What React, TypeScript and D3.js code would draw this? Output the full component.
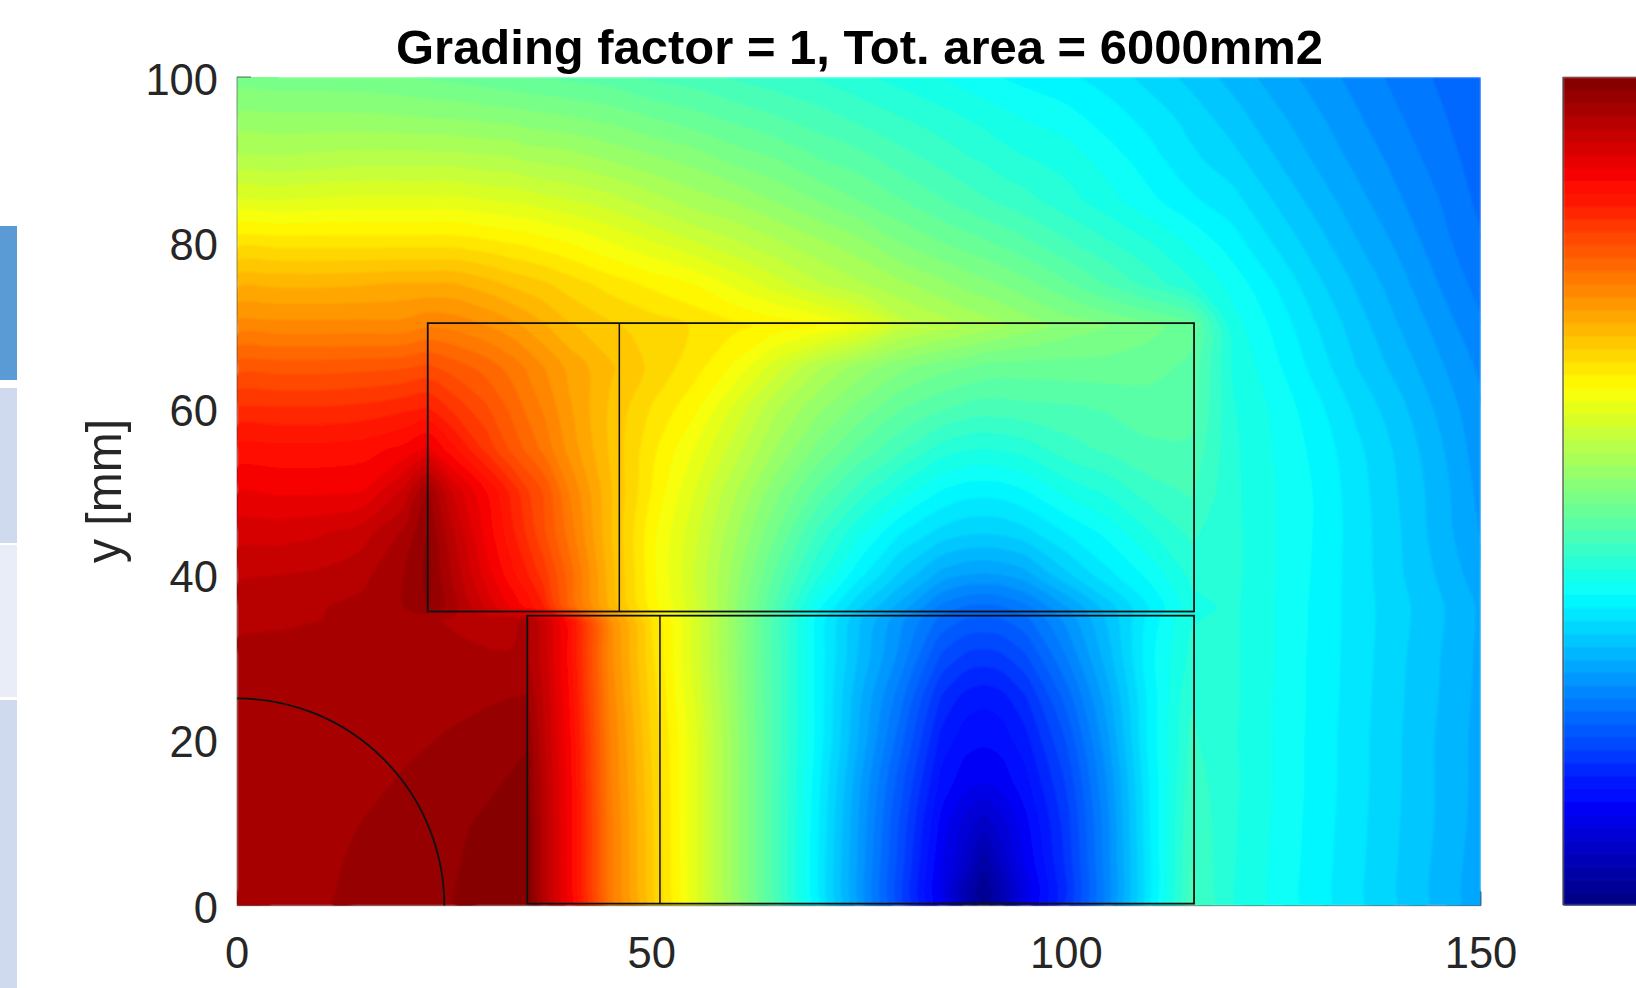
import React, { useMemo } from "react";
import * as d3 from "d3";

const titleText = "Grading factor = 1, Tot. area = 6000mm2";
const yLabelText = "y [mm]";
const xTicks = [0, 50, 100, 150];
const yTicks = [0, 20, 40, 60, 80, 100];

// Grid of the field (millimetres)
const gridX = [0,5,10,15,20,23,26,30,33,35,37,40,45,50,55,60,65,70,75,80,85,88,90,92,95,100,105,110,115,120,125,130,135,140,145,150];
const gridY = [0,2,5,10,15,20,25,30,34.5,36,40,45,50,55,60,65,70,75,80,85,90,95,100];

// Colour-scale position (0..1) at each grid point, one row per gridY
const field = [
[.96,.96,.967,.973,.978,.981,.984,.99,.995,1,.945,.885,.755,.676,.6,.525,.445,.36,.275,.19,.105,.04,.005,.04,.1,.17,.257,.355,.44,.407,.387,.367,.347,.327,.307,.287],
[.96,.96,.966,.973,.978,.981,.984,.99,.995,1,.945,.885,.755,.676,.6,.525,.445,.36,.275,.19,.105,.045,.02,.045,.1,.17,.257,.355,.44,.407,.387,.367,.347,.327,.307,.287],
[.96,.96,.965,.972,.977,.98,.983,.989,.994,1,.945,.885,.755,.676,.6,.525,.445,.36,.277,.195,.11,.07,.035,.065,.11,.175,.26,.356,.438,.408,.388,.368,.348,.328,.308,.288],
[.96,.961,.963,.969,.975,.978,.981,.987,.992,.998,.945,.885,.755,.675,.6,.525,.445,.362,.28,.2,.12,.085,.07,.085,.12,.18,.262,.358,.435,.409,.389,.369,.349,.329,.31,.29],
[.96,.96,.962,.965,.97,.973,.976,.981,.986,.99,.943,.883,.752,.673,.6,.525,.445,.365,.285,.21,.135,.115,.112,.115,.135,.19,.268,.36,.43,.41,.39,.37,.35,.33,.31,.291],
[.96,.96,.961,.963,.966,.968,.971,.975,.979,.982,.94,.88,.75,.67,.6,.525,.445,.37,.295,.225,.15,.131,.128,.131,.15,.205,.278,.365,.425,.409,.39,.37,.35,.33,.31,.291],
[.96,.96,.96,.96,.961,.962,.964,.967,.969,.97,.935,.875,.745,.665,.595,.522,.445,.37,.3,.24,.169,.149,.145,.149,.169,.225,.29,.365,.42,.41,.39,.371,.351,.331,.312,.292],
[.958,.958,.958,.958,.958,.957,.956,.955,.954,.955,.93,.87,.74,.66,.59,.52,.445,.37,.31,.26,.2,.183,.18,.183,.2,.25,.305,.37,.41,.41,.391,.371,.352,.332,.313,.293],
[.949,.951,.953,.955,.96,.955,.952,.948,.95,.955,.925,.865,.735,.655,.59,.52,.445,.37,.315,.27,.229,.217,.215,.217,.229,.27,.315,.365,.405,.41,.391,.372,.352,.334,.315,.294],
[.945,.948,.952,.958,.968,.985,.96,.92,.89,.87,.845,.78,.7,.635,.585,.52,.45,.38,.33,.29,.245,.232,.23,.232,.245,.28,.32,.36,.4,.41,.391,.372,.352,.334,.315,.294],
[.935,.937,.94,.948,.968,.988,.95,.9,.865,.845,.82,.775,.695,.63,.58,.525,.465,.41,.365,.325,.291,.282,.28,.282,.291,.325,.355,.38,.41,.411,.392,.373,.352,.331,.31,.287],
[.915,.915,.92,.93,.955,.985,.94,.885,.85,.825,.8,.76,.69,.63,.585,.535,.485,.435,.395,.36,.338,.331,.33,.331,.338,.36,.38,.405,.425,.411,.392,.374,.352,.33,.305,.28],
[.89,.888,.888,.89,.925,.97,.92,.875,.84,.815,.795,.75,.69,.64,.595,.55,.505,.465,.43,.4,.374,.366,.365,.366,.374,.395,.41,.43,.44,.41,.392,.374,.351,.328,.304,.276],
[.865,.865,.865,.868,.88,.895,.865,.825,.795,.778,.762,.73,.685,.645,.61,.57,.53,.495,.465,.44,.414,.407,.405,.407,.412,.43,.44,.45,.45,.41,.39,.371,.348,.325,.3,.272],
[.83,.83,.83,.833,.84,.845,.825,.8,.778,.762,.748,.722,.685,.655,.63,.59,.55,.52,.495,.47,.455,.447,.445,.445,.448,.45,.455,.46,.46,.408,.388,.365,.34,.318,.293,.268],
[.79,.79,.79,.792,.795,.8,.79,.775,.76,.748,.735,.715,.69,.668,.648,.622,.585,.55,.525,.505,.49,.485,.48,.477,.477,.478,.478,.475,.465,.405,.38,.354,.328,.307,.284,.262],
[.74,.74,.74,.74,.74,.748,.745,.735,.725,.715,.705,.69,.675,.665,.655,.645,.635,.625,.605,.57,.555,.545,.54,.535,.525,.51,.5,.49,.475,.398,.372,.345,.32,.297,.275,.252],
[.7,.7,.7,.702,.705,.705,.705,.695,.685,.68,.675,.665,.65,.637,.625,.605,.585,.565,.55,.535,.52,.51,.505,.5,.49,.472,.452,.432,.41,.385,.36,.333,.31,.288,.265,.243],
[.65,.65,.65,.65,.65,.65,.65,.645,.64,.637,.632,.625,.61,.595,.58,.565,.55,.535,.52,.5,.485,.477,.472,.466,.457,.44,.424,.407,.388,.367,.343,.32,.298,.278,.256,.236],
[.595,.595,.598,.6,.6,.6,.6,.595,.592,.59,.585,.58,.57,.555,.54,.53,.515,.5,.485,.47,.455,.446,.44,.435,.428,.413,.397,.38,.363,.35,.328,.307,.287,.268,.25,.23],
[.55,.55,.553,.555,.555,.555,.555,.552,.55,.545,.543,.54,.53,.52,.51,.495,.485,.47,.46,.445,.432,.424,.42,.414,.408,.4,.384,.366,.348,.334,.314,.295,.277,.26,.243,.226],
[.52,.52,.52,.52,.518,.516,.515,.512,.51,.507,.505,.502,.495,.485,.475,.465,.455,.445,.434,.423,.413,.406,.402,.397,.39,.382,.367,.354,.338,.32,.302,.285,.268,.252,.237,.223],
[.49,.49,.49,.488,.485,.482,.48,.475,.472,.47,.468,.465,.46,.45,.445,.435,.428,.42,.41,.4,.39,.383,.378,.375,.37,.362,.353,.338,.323,.307,.29,.275,.26,.245,.232,.22],
];

// Conductor outlines in millimetres
const upperBar = { x: [23, 46.1, 115.4], y: [35.5, 70.3] };
const lowerBar = { x: [35, 51, 115.4], y: [0.25, 35] };
const coreRadius = 25;

const bandCount = 64;
const bands = d3.range(bandCount);

function jet(i: number): string {
  const t = (i + 0.5) / bandCount;
  const c = (v: number) => Math.round(255 * Math.max(0, Math.min(1, v)));
  const r = Math.min(4 * t - 1.5, -4 * t + 4.5);
  const g = Math.min(4 * t - 0.5, -4 * t + 3.5);
  const b = Math.min(4 * t + 0.5, -4 * t + 2.5);
  return `rgb(${c(r)},${c(g)},${c(b)})`;
}

const W = 1636;
const H = 988;
const plot = { l: 237, r: 1481, t: 77, b: 905.7 };
const bar = { l: 1563, r: 1640, t: 77, b: 905 };
const font = "'Liberation Sans', Arial, Helvetica, sans-serif";
const ink = "#262626";

export default function App() {
  const x = d3.scaleLinear().domain([0, 150]).range([plot.l, plot.r]);
  const y = d3.scaleLinear().domain([0, 100]).range([plot.b, plot.t]);
  const barY = d3.scaleLinear().domain([0, bandCount]).range([bar.b, bar.t]);

  const paths = useMemo(() => {
    const nx = gridX.length;
    const ny = gridY.length;
    const ix = d3.scaleLinear().domain(d3.range(nx)).range(gridX).clamp(true);
    const iy = d3.scaleLinear().domain(d3.range(ny)).range(gridY).clamp(true);
    const gen = d3.contours().size([nx, ny]).thresholds(bands.map((i) => i / bandCount));
    const polys = gen(field.flat());
    const line = d3.line().curve(d3.curveCatmullRomClosed.alpha(0.5));
    return polys.map((p: any) => {
      let dStr = "";
      for (const poly of p.coordinates) {
        for (const ring of poly) {
          const pts: [number, number][] = [];
          for (const [a, b] of ring) {
            const q: [number, number] = [x(ix(a - 0.5)), y(iy(b - 0.5))];
            const last = pts[pts.length - 1];
            if (!last || Math.hypot(last[0] - q[0], last[1] - q[1]) > 0.4) pts.push(q);
          }
          if (pts.length > 2) dStr += line(pts) || "";
        }
      }
      return dStr;
    });
  }, []);

  const arc = d3.arc()({
    innerRadius: x(coreRadius) - x(0),
    outerRadius: x(coreRadius) - x(0),
    startAngle: 0,
    endAngle: Math.PI / 2,
  } as any) as string;

  const barRect = (b: { x: number[]; y: number[] }) => (
    <g fill="none" stroke="#111" strokeWidth={1.8}>
      <rect x={x(b.x[0])} y={y(b.y[1])} width={x(b.x[2]) - x(b.x[0])} height={y(b.y[0]) - y(b.y[1])} />
      <line x1={x(b.x[1])} x2={x(b.x[1])} y1={y(b.y[0])} y2={y(b.y[1])} strokeWidth={1.5} />
    </g>
  );

  return (
    <svg width={W} height={H} viewBox={`0 0 ${W} ${H}`} style={{ position: "absolute", left: 0, top: 0, background: "#fff" }}>
      <defs>
        <clipPath id="plotClip">
          <rect x={plot.l} y={plot.t} width={plot.r - plot.l} height={plot.b - plot.t} />
        </clipPath>
        <filter id="soft" x="0" y="0" width="1" height="1">
          <feGaussianBlur stdDeviation="0.9" />
        </filter>
      </defs>

      {/* slide fragments at the left edge */}
      <rect x={0} y={226} width={17} height={154} fill="#5b9bd5" />
      <rect x={0} y={388} width={17} height={155} fill="#cfdaee" />
      <rect x={0} y={545} width={17} height={152} fill="#e9edf7" />
      <rect x={0} y={700} width={17} height={288} fill="#cfdaee" />

      <g clipPath="url(#plotClip)">
        <g filter="url(#soft)">
          <rect x={plot.l} y={plot.t} width={plot.r - plot.l} height={plot.b - plot.t} fill={jet(0)} />
          {paths.map((d, i) => (
            <path key={i} d={d} fill={jet(i)} />
          ))}
        </g>
        <path d={arc} transform={`translate(${x(0)},${y(0)})`} fill="none" stroke="#111" strokeWidth={1.8} />
        {barRect(upperBar)}
        {barRect(lowerBar)}
      </g>

      {/* axes remnants */}
      <g stroke={ink} fill="none">
        <line x1={plot.l} x2={plot.l} y1={plot.t} y2={plot.b} strokeOpacity={0.5} />
        <line x1={plot.l} x2={plot.r} y1={plot.b} y2={plot.b} strokeOpacity={0.5} />
        <line x1={plot.l} x2={plot.l + 14} y1={plot.t} y2={plot.t} strokeOpacity={0.7} />
        <line x1={plot.r} x2={plot.r} y1={plot.b} y2={plot.b - 14} strokeOpacity={0.7} />
      </g>

      {/* colour bar */}
      <g filter="url(#soft)">
        {bands.map((i) => (
          <rect key={i} x={bar.l} y={barY(i + 1)} width={bar.r - bar.l} height={barY(i) - barY(i + 1) + 0.6} fill={jet(i)} />
        ))}
      </g>
      <line x1={bar.l} x2={bar.l} y1={bar.t} y2={bar.b} stroke={ink} strokeOpacity={0.7} strokeWidth={1.5} />
      <line x1={bar.l} x2={W} y1={bar.t} y2={bar.t} stroke={ink} strokeOpacity={0.5} />
      <line x1={bar.l} x2={W} y1={bar.b} y2={bar.b} stroke={ink} strokeOpacity={0.5} />

      {/* text */}
      <text x={(396 + 1323) / 2} y={64} textAnchor="middle" fontFamily={font} fontWeight="bold" fontSize={49} fill="#000" textLength={927} lengthAdjust="spacingAndGlyphs">
        {titleText}
      </text>
      {yTicks.map((t) => (
        <text key={t} x={218} y={y(t) + 17.5} textAnchor="end" fontFamily={font} fontSize={43.5} fill={ink}>
          {t}
        </text>
      ))}
      {xTicks.map((t) => (
        <text key={t} x={x(t)} y={968} textAnchor="middle" fontFamily={font} fontSize={43.5} fill={ink}>
          {t}
        </text>
      ))}
      <text transform="translate(121,491) rotate(-90)" textAnchor="middle" fontFamily={font} fontSize={50} fill={ink} textLength={144} lengthAdjust="spacingAndGlyphs">
        {yLabelText}
      </text>
    </svg>
  );
}
